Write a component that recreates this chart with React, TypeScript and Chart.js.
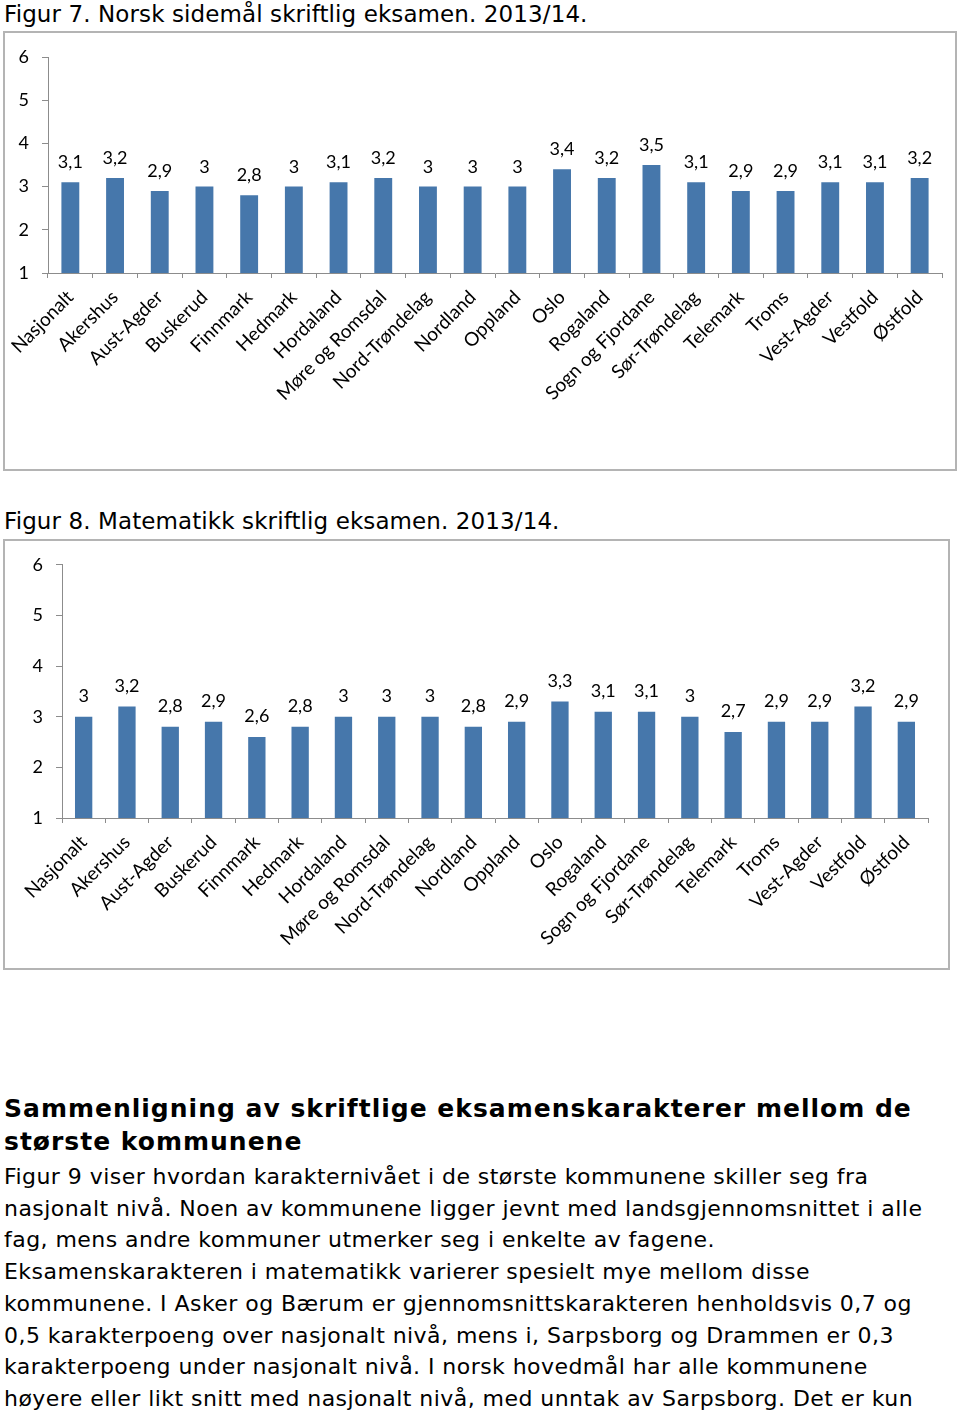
import React, { useEffect, useRef } from 'react';
import { Chart, registerables } from 'chart.js';
Chart.register(...registerables);

const categories = [
  'Nasjonalt', 'Akershus', 'Aust-Agder', 'Buskerud', 'Finnmark', 'Hedmark', 'Hordaland',
  'Møre og Romsdal', 'Nord-Trøndelag', 'Nordland', 'Oppland', 'Oslo', 'Rogaland',
  'Sogn og Fjordane', 'Sør-Trøndelag', 'Telemark', 'Troms', 'Vest-Agder', 'Vestfold', 'Østfold',
];
const norskSidemal = [3.1, 3.2, 2.9, 3, 2.8, 3, 3.1, 3.2, 3, 3, 3, 3.4, 3.2, 3.5, 3.1, 2.9, 2.9, 3.1, 3.1, 3.2];
const matematikk = [3, 3.2, 2.8, 2.9, 2.6, 2.8, 3, 3, 3, 2.8, 2.9, 3.3, 3.1, 3.1, 3, 2.7, 2.9, 2.9, 3.2, 2.9];
const yMin = 1;
const yMax = 6;
const yStep = 1;

const title7 = 'Figur 7. Norsk sidemål skriftlig eksamen. 2013/14.';
const title8 = 'Figur 8. Matematikk skriftlig eksamen. 2013/14.';
const headingLines = ['Sammenligning av skriftlige eksamenskarakterer mellom de', 'største kommunene'];
const bodyLines = [
  'Figur 9 viser hvordan karakternivået i de største kommunene skiller seg fra',
  'nasjonalt nivå. Noen av kommunene ligger jevnt med landsgjennomsnittet i alle',
  'fag, mens andre kommuner utmerker seg i enkelte av fagene.',
  'Eksamenskarakteren i matematikk varierer spesielt mye mellom disse',
  'kommunene. I Asker og Bærum er gjennomsnittskarakteren henholdsvis 0,7 og',
  '0,5 karakterpoeng over nasjonalt nivå, mens i, Sarpsborg og Drammen er 0,3',
  'karakterpoeng under nasjonalt nivå. I norsk hovedmål har alle kommunene',
  'høyere eller likt snitt med nasjonalt nivå, med unntak av Sarpsborg. Det er kun',
];

const BAR = '#4677ab';
const AXIS = '#8c8c8c';
const LABEL_FONT = 'Lato, "Open Sans", sans-serif';

const fmt = (v: number) => String(v).replace('.', ',');

type BoxProps = {
  values: number[];
  width: number;
  height: number;
  yWidth: number;
  xHeight: number;
  padTop: number;
  padRight: number;
  labelOffset: number;
};

function BarChart(p: BoxProps) {
  const ref = useRef<HTMLCanvasElement | null>(null);
  useEffect(() => {
    if (!ref.current) return;
    const valueLabels = {
      id: 'valueLabels',
      afterDatasetsDraw(chart: any) {
        const ctx = chart.ctx;
        const meta = chart.getDatasetMeta(0);
        ctx.save();
        ctx.font = `18px ${LABEL_FONT}`;
        ctx.fillStyle = '#000';
        ctx.textAlign = 'center';
        ctx.textBaseline = 'alphabetic';
        meta.data.forEach((el: any, i: number) => {
          ctx.fillText(fmt(p.values[i]), el.x, el.y - p.labelOffset);
        });
        ctx.restore();
      },
    };
    const chart = new Chart(ref.current, {
      type: 'bar',
      data: {
        labels: categories,
        datasets: [{ data: p.values, backgroundColor: BAR, borderWidth: 0, categoryPercentage: 1, barPercentage: 0.4 }],
      },
      options: {
        animation: false,
        responsive: false,
        maintainAspectRatio: false,
        layout: { padding: { top: p.padTop, right: p.padRight, left: 0, bottom: 0 } },
        plugins: { legend: { display: false }, tooltip: { enabled: false } },
        scales: {
          x: {
            afterFit: (s: any) => { s.height = p.xHeight; },
            grid: { display: true, drawOnChartArea: false, drawTicks: true, tickLength: 5, offset: true, color: AXIS },
            border: { display: true, color: AXIS },
            ticks: {
              autoSkip: false, maxRotation: 45, minRotation: 45, padding: 8,
              color: '#000', font: { family: LABEL_FONT, size: 19 },
            },
          },
          y: {
            min: yMin, max: yMax,
            afterFit: (s: any) => { s.width = p.yWidth; },
            grid: { display: true, drawOnChartArea: false, drawTicks: true, tickLength: 6, color: AXIS },
            border: { display: true, color: AXIS },
            ticks: { stepSize: yStep, padding: 13, color: '#000', font: { family: LABEL_FONT, size: 18 } },
          },
        },
      },
      plugins: [valueLabels],
    });
    return () => chart.destroy();
  }, []);
  return <canvas ref={ref} width={p.width} height={p.height} style={{ display: 'block', width: p.width, height: p.height }} />;
}

const TEXT_FONT = '"DejaVu Sans", Verdana, sans-serif';

export default function App() {
  const line = (t: string, top: number, size: number, spacing: number, bold = false, key?: any) => (
    <div key={key} style={{ position: 'absolute', left: 4, top, fontFamily: TEXT_FONT, fontSize: size, letterSpacing: spacing, fontWeight: bold ? 'bold' : 'normal', lineHeight: '32px', whiteSpace: 'nowrap', color: '#000' }}>{t}</div>
  );
  return (
    <div style={{ position: 'absolute', left: 0, top: 0, width: 960, height: 1416, background: '#fff' }}>
      {line(title7, -2, 23, 0.1)}
      <div style={{ position: 'absolute', left: 3, top: 31, width: 950, height: 436, border: '2px solid #b4b4b4' }}>
        <BarChart values={norskSidemal} width={950} height={436} yWidth={43} xHeight={196} padTop={24} padRight={13} labelOffset={14} />
      </div>
      {line(title8, 505, 23, 0.1)}
      <div style={{ position: 'absolute', left: 3, top: 539, width: 943, height: 427, border: '2px solid #b4b4b4' }}>
        <BarChart values={matematikk} width={943} height={427} yWidth={57} xHeight={150} padTop={21} padRight={20} labelOffset={15} />
      </div>
      {headingLines.map((t, i) => line(t, 1093 + i * 33, 25, 1, true, 'h' + i))}
      {bodyLines.map((t, i) => line(t, 1161 + i * 31.7, 22, 0.45, false, 'b' + i))}
    </div>
  );
}
